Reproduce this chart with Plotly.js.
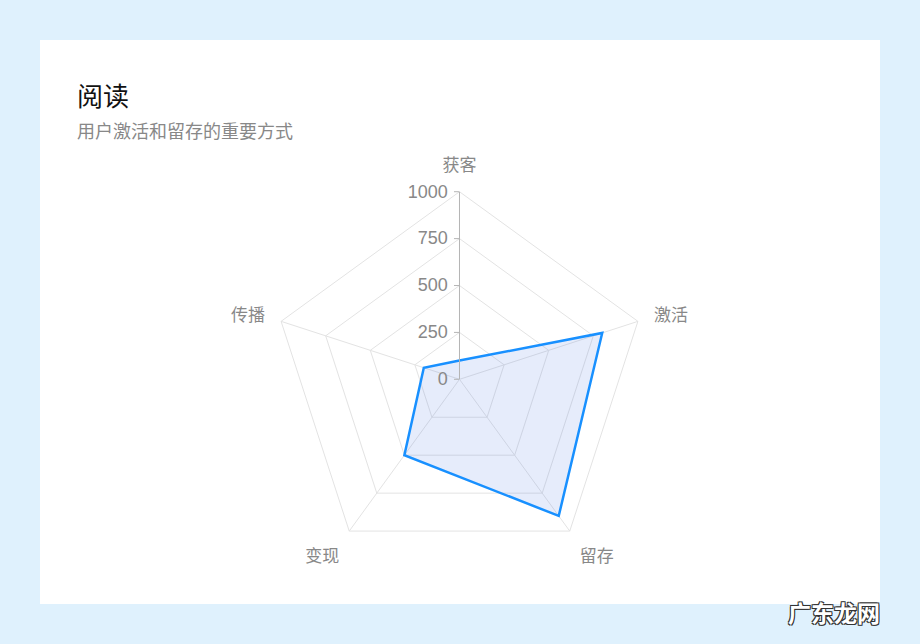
<!DOCTYPE html>
<html>
<head>
<meta charset="utf-8">
<script src="https://cdn.plot.ly/plotly-3.0.1.min.js"></script>
<style>
  html, body { margin: 0; padding: 0; background: #dff1fd; }
  #chart { width: 920px; height: 644px; }
</style>
</head>
<body>
<div id="chart"></div>
<script>
// radar dimensions, clockwise from the top
var categories = ['获客', '激活', '留存', '变现', '传播'];
var values = [100, 800, 900, 500, 200];
var radialTicks = [0, 250, 500, 750, 1000];

var titleText = '阅读';
var subtitleText = '用户激活和留存的重要方式';

var font = '"Noto Sans CJK SC", "Noto Sans", sans-serif';

var trace = {
  type: 'scatterpolar',
  r: values.concat([values[0]]),
  theta: categories.concat([categories[0]]),
  mode: 'lines',
  fill: 'toself',
  fillcolor: 'rgba(90,130,230,0.15)',
  line: { color: '#1890ff', width: 2.5 },
  hoverinfo: 'skip'
};

var layout = {
  width: 920,
  height: 644,
  margin: { l: 0, r: 0, t: 0, b: 0 },
  paper_bgcolor: '#dff1fd',
  showlegend: false,
  font: { family: font, color: '#888' },
  shapes: [{
    type: 'rect', xref: 'paper', yref: 'paper', layer: 'below',
    x0: 40 / 920, x1: 880 / 920, y0: 40 / 644, y1: 604 / 644,
    fillcolor: '#ffffff', line: { width: 0 }
  }],
  annotations: [
    { text: titleText, xref: 'paper', yref: 'paper', x: 75 / 920, y: 1 - 94 / 644,
      xanchor: 'left', yanchor: 'middle', showarrow: false,
      font: { family: font, size: 26, color: '#111' } },
    { text: subtitleText, xref: 'paper', yref: 'paper', x: 75 / 920, y: 1 - 130 / 644,
      xanchor: 'left', yanchor: 'middle', showarrow: false,
      font: { family: font, size: 18, color: '#888' } },
    { text: '<b>广东龙网</b>', xref: 'paper', yref: 'paper', x: 834 / 920, y: 1 - 612 / 644,
      xanchor: 'center', yanchor: 'middle', showarrow: false,
      font: { family: font, size: 23, color: '#ffffff',
        shadow: '1px 1px 0 #333, -1px -1px 0 #333, 1px -1px 0 #333, -1px 1px 0 #333' } }
  ],
  polar: {
    domain: { x: [0.2955, 0.7034], y: [0.1197, 0.7023] },
    gridshape: 'linear',
    bgcolor: '#ffffff',
    angularaxis: {
      rotation: 90,
      direction: 'clockwise',
      showline: true,
      linecolor: '#e3e3e3',
      gridcolor: '#e3e3e3',
      ticks: 'outside',
      ticklen: 13,
      tickcolor: 'rgba(0,0,0,0)',
      tickfont: { family: font, size: 17, color: '#888' }
    },
    radialaxis: {
      range: [0, 1000],
      tickvals: radialTicks,
      ticksuffix: '\u00a0\u00a0',
      angle: 90,
      side: 'counterclockwise',
      tickangle: 90,
      showline: true,
      linecolor: '#b5b5b5',
      ticks: 'outside',
      ticklen: 5,
      tickcolor: '#b5b5b5',
      gridcolor: '#e3e3e3',
      tickfont: { family: 'Liberation Sans, Arial, sans-serif', size: 18, color: '#888' }
    }
  }
};

Plotly.newPlot('chart', [trace], layout, { displayModeBar: false, staticPlot: true });
</script>
</body>
</html>
